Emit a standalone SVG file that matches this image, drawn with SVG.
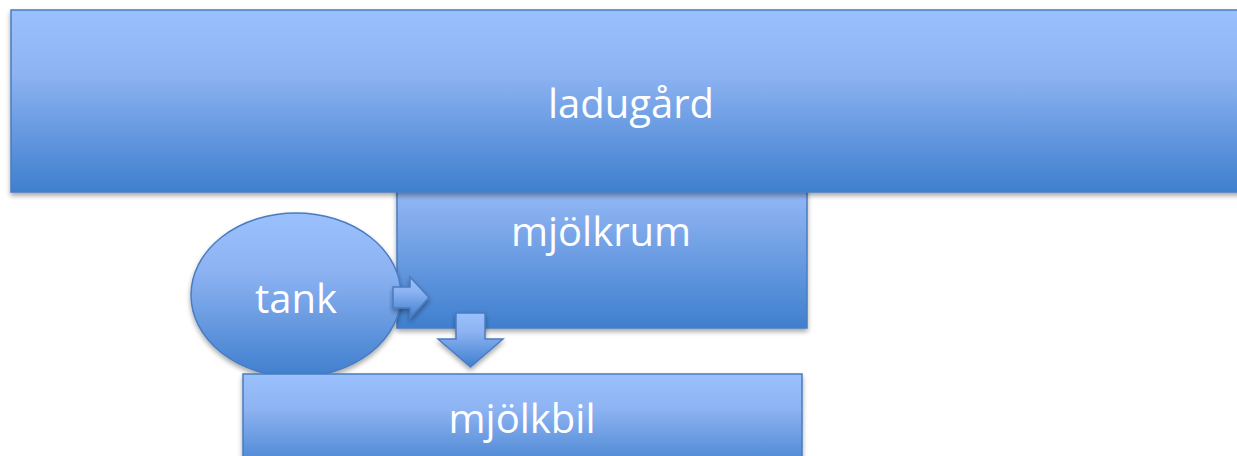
<svg xmlns="http://www.w3.org/2000/svg" width="1237" height="456" viewBox="0 0 1237 456">
<defs>
<linearGradient id="g" x1="0" y1="0" x2="0" y2="1">
<stop offset="0" stop-color="#9ac0fd"/>
<stop offset="0.35" stop-color="#8db3f2"/>
<stop offset="1" stop-color="#3f7fce"/>
</linearGradient>
<filter id="sh" x="-10%" y="-10%" width="120%" height="130%">
<feGaussianBlur in="SourceAlpha" stdDeviation="2.5"/>
<feOffset dx="0" dy="3" result="b"/>
<feComponentTransfer><feFuncA type="linear" slope="0.35"/></feComponentTransfer>
<feMerge><feMergeNode/><feMergeNode in="SourceGraphic"/></feMerge>
</filter>
</defs>
<style>
.box{fill:url(#g);stroke:#4a7cc0;stroke-width:1.5;filter:url(#sh)}
.t{font-family:"Open Sans","Liberation Sans",sans-serif;fill:#fff;text-anchor:middle;font-size:40px}
</style>
<rect width="1237" height="456" fill="#fff"/>
<g id="mjolkrum">
<rect class="box" x="397" y="134" width="410" height="194"/>
<text class="t" x="601" y="246">mjölkrum</text>
</g>
<g id="ladugard">
<rect class="box" x="11" y="10" width="1240" height="182"/>
<text class="t" x="631" y="118">ladugård</text>
</g>
<g id="tank">
<ellipse class="box" cx="296" cy="295" rx="105" ry="82"/>
<text class="t" x="296" y="313">tank</text>
</g>
<g id="connectors">
<path class="box" d="M393,287 H410 V277 L429,297.5 L410,318 V308 H393 Z"/>
<path class="box" d="M456,313 H485 V339 H503 L470.5,367 L438,339 H456 Z"/>
</g>
<g id="mjolkbil">
<rect class="box" x="243" y="374" width="559" height="100"/>
<text class="t" x="522" y="433">mjölkbil</text>
</g>
</svg>
